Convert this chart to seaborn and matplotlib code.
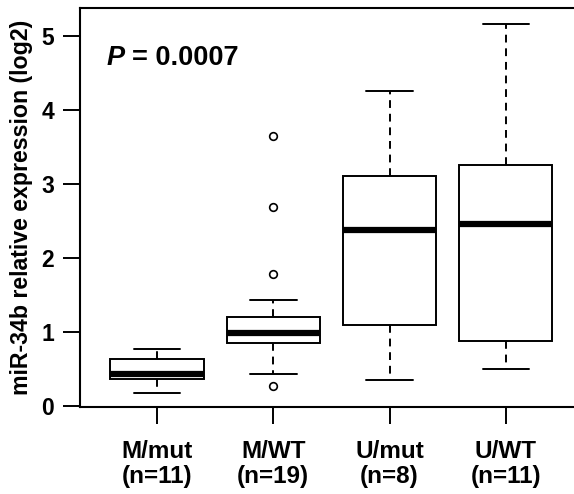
import pandas as pd
import matplotlib
matplotlib.use('Agg')
import matplotlib.pyplot as plt
import seaborn as sns

# grupos e valores (estimados a partir da figura)
grupos = ['M/mut', 'M/WT', 'U/mut', 'U/WT']
rotulos = ['M/mut\n(n=11)', 'M/WT\n(n=19)', 'U/mut\n(n=8)', 'U/WT\n(n=11)']

m_mut = [0.17, 0.30, 0.36, 0.37, 0.40, 0.42, 0.50, 0.60, 0.67, 0.72, 0.77]
m_wt = [0.26, 0.43, 0.62, 0.78, 0.82, 0.86, 0.90, 0.93, 0.96, 0.98,
        1.02, 1.08, 1.13, 1.18, 1.22, 1.43, 1.78, 2.69, 3.65]
u_mut = [0.35, 1.00, 1.12, 2.20, 2.54, 3.05, 3.29, 4.26]
u_wt = [0.49, 0.70, 0.82, 0.92, 1.60, 2.46, 2.90, 3.15, 3.37, 4.10, 5.17]

valores = [m_mut, m_wt, u_mut, u_wt]
df = pd.DataFrame({
    'grupo': [g for g, v in zip(grupos, valores) for _ in v],
    'expr': [x for v in valores for x in v],
})

sns.set_style('ticks')
plt.rcParams['font.family'] = ['Liberation Sans', 'DejaVu Sans']
plt.rcParams['font.weight'] = 'bold'
# tudo em preto puro (o estilo do seaborn deixa cinza escuro)
plt.rcParams['text.color'] = 'black'
plt.rcParams['axes.labelcolor'] = 'black'
plt.rcParams['xtick.color'] = 'black'
plt.rcParams['ytick.color'] = 'black'

fig = plt.figure(figsize=(5.74, 4.94), dpi=100)
ax = fig.add_axes([80/574, 1 - 407/494, 505/574, 399/494])

sns.boxplot(data=df, x='grupo', y='expr', order=grupos, ax=ax,
            width=0.8, color='white', linecolor='black', linewidth=1.4,
            whiskerprops=dict(linestyle=(0, (4, 3))),
            medianprops=dict(linewidth=4.5, solid_capstyle='butt'),
            flierprops=dict(marker='o', markerfacecolor='none',
                            markeredgecolor='black', markersize=5.5,
                            markeredgewidth=1.2))

ax.set_xlim(-0.662, 3.68)
ax.set_ylim(-0.02, 5.38)
ax.set_yticks([0, 1, 2, 3, 4, 5])
ax.set_yticklabels(['0', '1', '2', '3', '4', '5'], fontsize=16.5, fontweight='bold')
ax.set_xticks(range(4))
ax.set_xticklabels(rotulos, fontsize=17.5, fontweight='bold', linespacing=1.15)
ax.tick_params(axis='both', length=12.5, width=1.4, color='black', labelcolor='black')
ax.tick_params(axis='x', pad=11)
ax.tick_params(axis='y', pad=6)

for lado in ['left', 'bottom', 'top']:
    ax.spines[lado].set_linewidth(1.5)
    ax.spines[lado].set_color('black')
ax.spines['right'].set_visible(False)

ax.set_xlabel('')
ax.set_ylabel('miR-34b relative expression (log2)', fontsize=16.7,
              fontweight='bold', labelpad=6)

# valor de P
ax.text(27/505, 0.857, 'P', transform=ax.transAxes, fontsize=19.5,
        fontweight='bold', fontstyle='italic', va='baseline')
ax.text(52/505, 0.857, '= 0.0007', transform=ax.transAxes, fontsize=19.5,
        fontweight='bold', va='baseline')

plt.savefig('out.png', dpi=100)
